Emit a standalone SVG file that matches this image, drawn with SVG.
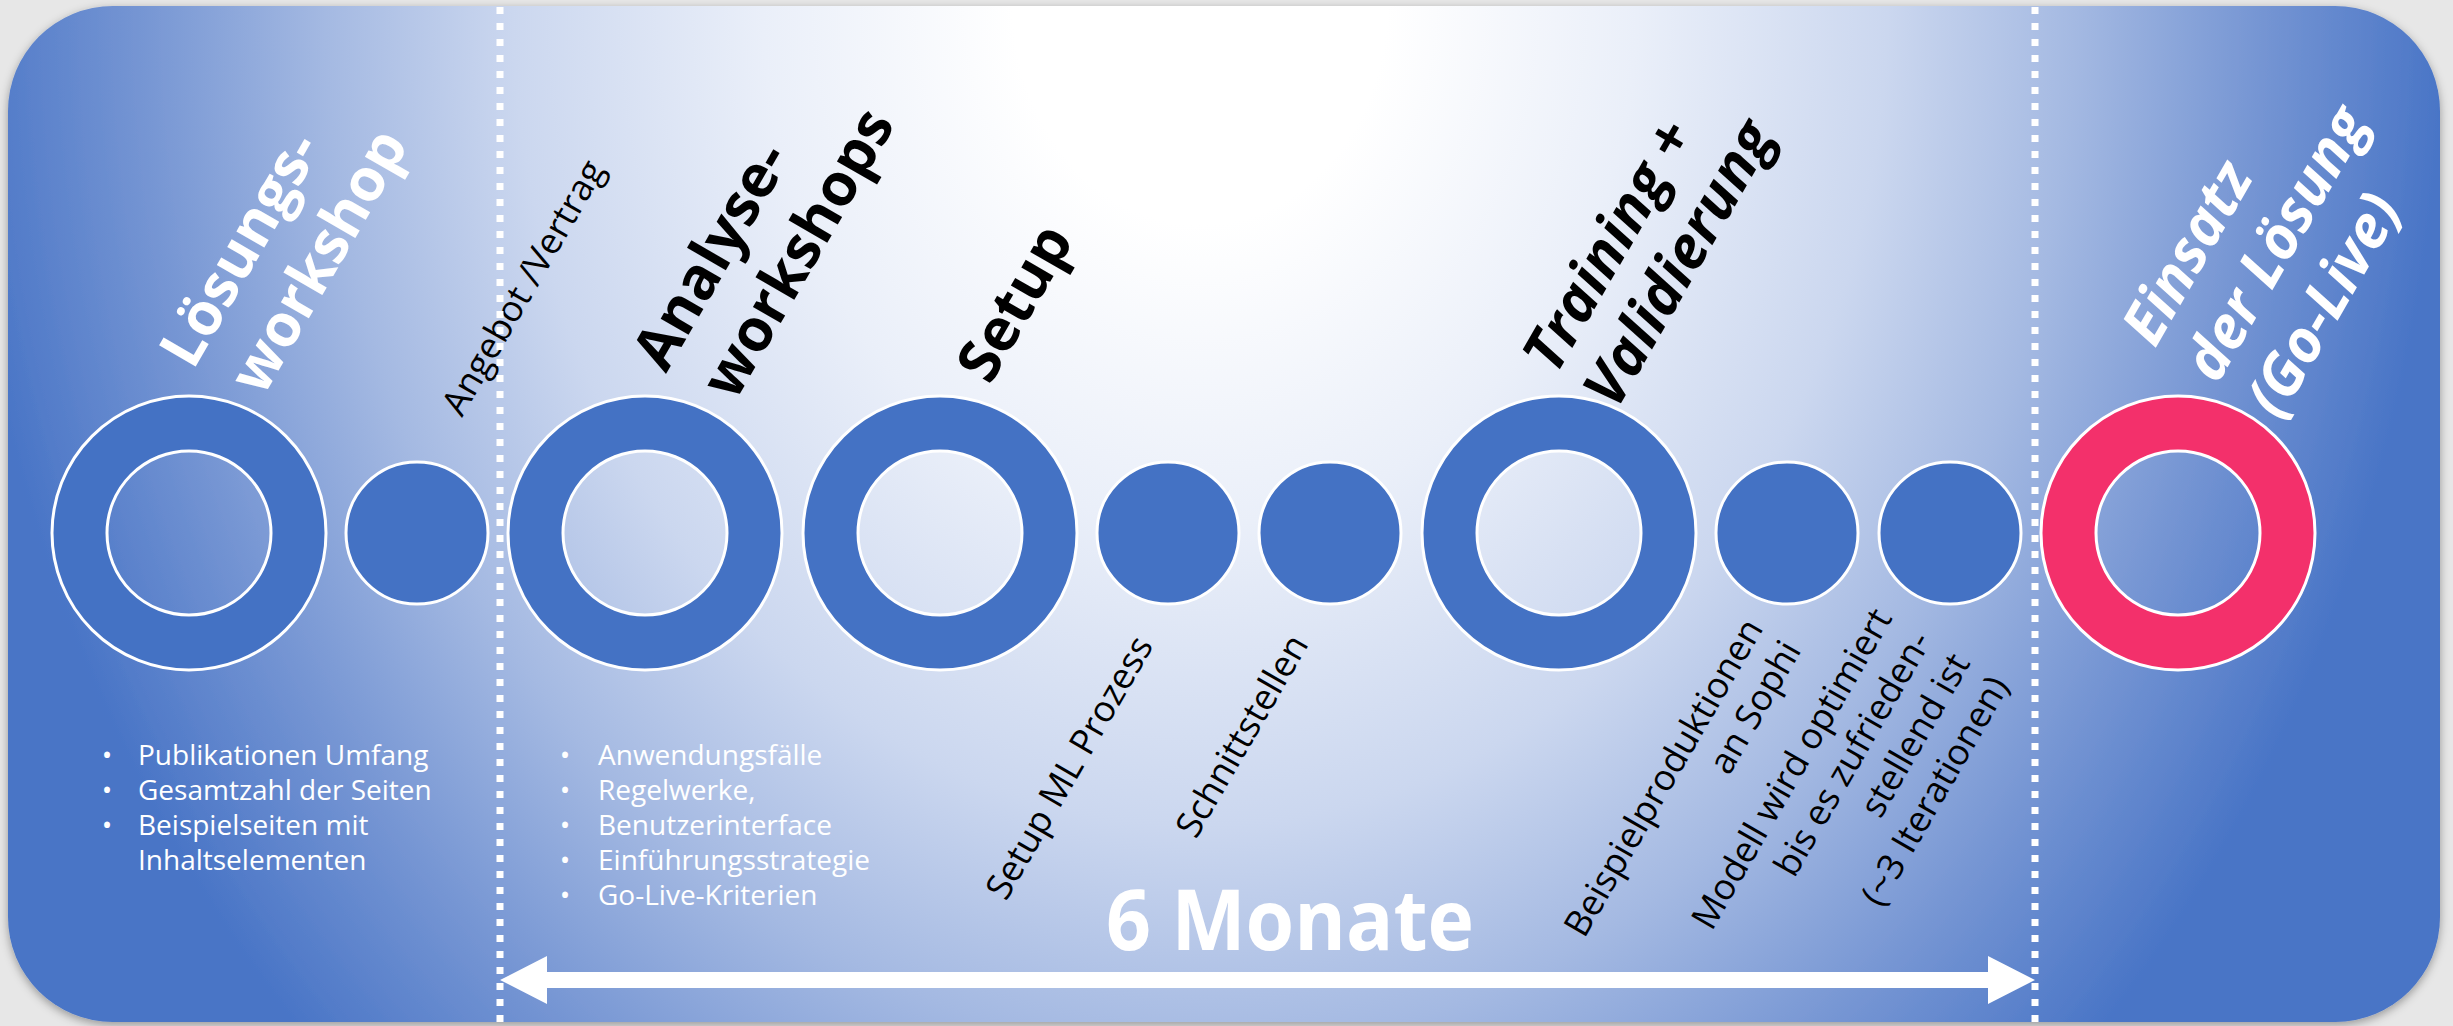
<svg xmlns="http://www.w3.org/2000/svg" width="2453" height="1026" viewBox="0 0 2453 1026">
<defs>
<style>
.ring{fill:#4472c4;fill-rule:evenodd;stroke:#ffffff;stroke-width:3}
.pink{fill:#f3306b}
.dot{fill:#4472c4;stroke:#ffffff;stroke-width:3}
.title{font-family:'Open Sans','Liberation Sans',sans-serif;font-weight:700;font-size:59px}
.it{font-style:italic}
.sub{font-family:'Open Sans','Liberation Sans',sans-serif;font-weight:400;font-size:36px;fill:#000}
.blt{font-family:'Open Sans','Liberation Sans',sans-serif;font-size:28px;fill:#ffffff}
.sep{stroke:#ffffff;stroke-width:7;stroke-dasharray:7 9;fill:none}
</style>
<radialGradient id="bg" gradientUnits="userSpaceOnUse" cx="1200" cy="0" r="1250" gradientTransform="translate(1200 0) scale(1 1.2) translate(-1200 0)">
<stop offset="0" stop-color="#ffffff"/>
<stop offset="0.15" stop-color="#ffffff"/>
<stop offset="0.35" stop-color="#eaeff9"/>
<stop offset="0.55" stop-color="#cbd7ef"/>
<stop offset="0.7" stop-color="#a4b9e2"/>
<stop offset="0.85" stop-color="#7595d3"/>
<stop offset="1" stop-color="#4874c6"/>
</radialGradient>
<filter id="sh" x="-5%" y="-5%" width="110%" height="115%">
<feDropShadow dx="0" dy="3" stdDeviation="5" flood-color="#000000" flood-opacity="0.35"/>
</filter>
</defs>
<rect x="0" y="0" width="2453" height="1026" fill="#e7e7e7"/>
<rect x="8" y="6" width="2432" height="1016" rx="105" ry="105" fill="url(#bg)" filter="url(#sh)"/>

<g id="connectors">
<polygon points="500,980 547,956 547,972 1988,972 1988,956 2035,980 1988,1004 1988,988 547,988 547,1004" fill="#ffffff"/>
<text x="1290" y="950" text-anchor="middle" font-family="'Open Sans','Liberation Sans',sans-serif" font-weight="700" font-size="84" fill="#ffffff" textLength="368" lengthAdjust="spacingAndGlyphs">6 Monate</text>
</g>

<g id="node-loesungsworkshop">
<path class="ring" d="M52 533a137 137 0 1 0 274 0a137 137 0 1 0 -274 0Z M107 533a82 82 0 1 0 164 0a82 82 0 1 0 -164 0Z"/>
<text class="title" fill="#ffffff" transform="translate(193 371) rotate(-60)"><tspan x="0" y="0">Lösungs-</tspan><tspan x="12" y="74">workshop</tspan></text>
<g class="blt">
<text x="107" y="765" text-anchor="middle">•</text>
<text x="107" y="800" text-anchor="middle">•</text>
<text x="107" y="835" text-anchor="middle">•</text>
<text x="138" y="765">Publikationen Umfang</text>
<text x="138" y="800">Gesamtzahl der Seiten</text>
<text x="138" y="835">Beispielseiten mit</text>
<text x="138" y="870">Inhaltselementen</text>
</g>
</g>

<g id="node-angebot">
<circle class="dot" cx="417" cy="533" r="71"/>
<text class="sub" transform="translate(462 418) rotate(-60)">Angebot /Vertrag</text>
</g>

<g id="node-analyse">
<path class="ring" d="M508 533a137 137 0 1 0 274 0a137 137 0 1 0 -274 0Z M563 533a82 82 0 1 0 164 0a82 82 0 1 0 -164 0Z"/>
<text class="title" fill="#000000" transform="translate(666 374) rotate(-60)"><tspan x="0" y="0">Analyse-</tspan><tspan x="10" y="74">workshops</tspan></text>
<g class="blt">
<text x="565" y="765" text-anchor="middle">•</text>
<text x="565" y="800" text-anchor="middle">•</text>
<text x="565" y="835" text-anchor="middle">•</text>
<text x="565" y="870" text-anchor="middle">•</text>
<text x="565" y="905" text-anchor="middle">•</text>
<text x="598" y="765">Anwendungsfälle</text>
<text x="598" y="800">Regelwerke,</text>
<text x="598" y="835">Benutzerinterface</text>
<text x="598" y="870">Einführungsstrategie</text>
<text x="598" y="905">Go-Live-Kriterien</text>
</g>
</g>

<g id="node-setup">
<path class="ring" d="M803 533a137 137 0 1 0 274 0a137 137 0 1 0 -274 0Z M858 533a82 82 0 1 0 164 0a82 82 0 1 0 -164 0Z"/>
<text class="title" fill="#000000" transform="translate(990 386) rotate(-60)">Setup</text>
</g>

<g id="node-setup-ml">
<circle class="dot" cx="1168" cy="533" r="71"/>
<text class="sub" transform="translate(1006 902) rotate(-60)">Setup ML Prozess</text>
</g>

<g id="node-schnittstellen">
<circle class="dot" cx="1330" cy="533" r="71"/>
<text class="sub" transform="translate(1196 840) rotate(-60)">Schnittstellen</text>
</g>

<g id="node-training">
<path class="ring" d="M1422 533a137 137 0 1 0 274 0a137 137 0 1 0 -274 0Z M1477 533a82 82 0 1 0 164 0a82 82 0 1 0 -164 0Z"/>
<text class="title it" fill="#000000" transform="translate(1556 376) rotate(-60)"><tspan x="0" y="0">Training +</tspan><tspan x="0" y="70">Validierung</tspan></text>
</g>

<g id="node-beispiel">
<circle class="dot" cx="1787" cy="533" r="71"/>
<text class="sub" text-anchor="end" transform="translate(1764 628) rotate(-60)"><tspan x="0" y="0">Beispielproduktionen</tspan><tspan x="0" y="44">an Sophi</tspan></text>
</g>

<g id="node-modell">
<circle class="dot" cx="1950" cy="533" r="71"/>
<text class="sub" text-anchor="end" transform="translate(1893 618) rotate(-60)"><tspan x="0" y="0">Modell wird optimiert</tspan><tspan x="0" y="45">bis es zufrieden-</tspan><tspan x="0" y="90">stellend ist</tspan><tspan x="0" y="135">(~3 Iterationen)</tspan></text>
</g>

<g id="node-golive">
<path class="ring pink" d="M2041 533a137 137 0 1 0 274 0a137 137 0 1 0 -274 0Z M2096 533a82 82 0 1 0 164 0a82 82 0 1 0 -164 0Z"/>
<text class="title it" fill="#ffffff" transform="translate(2155 349) rotate(-60)"><tspan x="0" y="0">Einsatz</tspan><tspan x="0" y="72">der Lösung</tspan><tspan x="0" y="144">(Go-Live)</tspan></text>
</g>

<g id="separators">
<line class="sep" x1="500" y1="7" x2="500" y2="1022"/>
<line class="sep" x1="2035" y1="7" x2="2035" y2="1022"/>
</g>
</svg>
